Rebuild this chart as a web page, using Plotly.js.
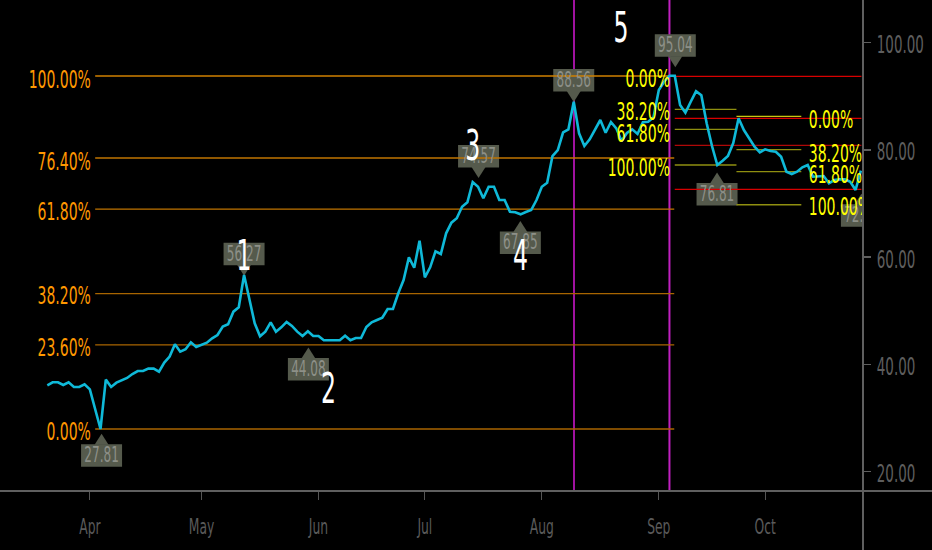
<!DOCTYPE html>
<html><head><meta charset="utf-8">
<script src="https://cdn.plot.ly/plotly-3.0.1.min.js"></script>
<style>html,body{margin:0;padding:0;background:#000}</style></head>
<body><div id="chart" style="width:932px;height:550px"></div>
<script>
const prices = [36.08,36.64,36.64,36.14,36.64,35.77,35.77,36.27,35.33,31.48,27.93,37.14,35.77,36.58,37.01,37.45,38.19,38.75,38.75,39.19,39.19,38.63,40.31,41.43,43.73,42.36,42.80,44.10,43.23,43.60,44.04,44.85,45.47,47.03,47.46,49.82,50.63,56.66,52.0,47.65,45.22,46.09,47.83,46.09,46.9,47.9,47.15,46.09,45.28,46.15,45.28,45.28,44.48,44.48,44.48,44.48,45.33,44.48,44.91,44.91,46.96,47.84,48.26,48.69,50.32,50.32,53.25,55.73,59.96,58.02,63.06,56.23,58.10,61.08,60.58,64.44,66.42,67.24,69.40,70.22,74.01,73.13,70.97,73.13,73.13,70.65,70.65,68.47,68.36,67.98,68.41,68.79,70.65,73.13,73.88,78.86,79.98,83.28,83.84,88.99,83.10,80.73,81.98,83.90,85.58,83.21,85.21,84.03,81.66,83.15,83.84,82.97,85.15,85.26,86.08,91.18,92.72,93.84,93.84,88.38,86.94,88.99,90.93,90.19,84.96,80.73,77.18,77.98,78.86,81.29,85.90,83.71,82.16,80.60,79.55,80.11,79.79,79.66,78.73,75.93,75.50,75.93,76.75,77.18,75.0,75.13,75.13,73.77,74.38,74.51,74.51,74.07,72.52,76.12];
const days = prices.map((_, i) => i);
const monthTicks = [8, 29, 51, 71, 93, 115, 135];
const monthLabels = ['Apr','May','Jun','Jul','Aug','Sep','Oct'];
const priceTicks = [20, 40, 60, 80, 100];
const priceTickLabels = ['20.00','40.00','60.00','80.00','100.00'];

const orangeLevels = [93.79, 78.49, 68.97, 53.19, 43.64, 27.93];
const orangeLabelLevels = [92.8, 77.5, 68.0, 52.5, 42.8, 27.1];
const orangeLabels = ['100.00%','76.40%','61.80%','38.20%','23.60%','0.00%'];
const redLevels = [93.73, 85.89, 80.86, 72.65];
const fibALevels = [87.57, 83.84, 77.18];
const fibALabelLevels = [92.9, 86.8, 82.7, 76.3];
const fibALabels = ['0.00%','38.20%','61.80%','100.00%'];
const fibBLevels = [86.26, 80.04, 75.93, 69.77];
const fibBLabelLevels = [85.3, 79.0, 75.05, 68.95];
const fibBLabels = ['0.00%','38.20%','61.80%','100.00%'];
const cycleLines = [99.05, 117];

const calloutTips = [10.2, 37, 49.1, 81.1, 88.96, 99, 118.1, 125.95, 153.1];
const calloutPrices = [27.05, 56.53, 43.13, 74.76, 66.73, 88.93, 95.41, 75.8, 71.83];
const calloutTexts = ['27.81','56.27','44.08','74.57','67.85','88.56','95.04','76.81','72.55'];
const calloutDown = [false, true, false, true, false, true, true, false, false];

const waveX = [37, 52.9, 80, 89, 107.9];
const waveY = [59.6, 34.8, 80, 59.5, 102.1];
const waveLabels = ['1','2','3','4','5'];

const FONT = '"DejaVu Sans",sans-serif';
const SQUEEZE = 0.56;
const shapes = [];
function hline(x0, x1, y, color, w) {
  shapes.push({type:'line', layer:'below', xref:'x', yref:'y', x0, x1, y0:y, y1:y, line:{color, width:w||1.3}});
}
calloutTips.forEach((x, i) => {
  const d = calloutDown[i];
  const yv = calloutPrices[i];
  const p = d ? 'M -20.5 10.5 L 20.5 10.5 L 20.5 33 L -20.5 33 Z' : 'M -20.5 -10.5 L 20.5 -10.5 L 20.5 -33 L -20.5 -33 Z';
  const t = d ? 'M -7 11 L 0 0 L 7 11 Z' : 'M -7 -11 L 0 0 L 7 -11 Z';
  [p, t].forEach(path => shapes.push({type:'path', layer:'below', xref:'x', yref:'y',
    xsizemode:'pixel', ysizemode:'pixel', xanchor:x, yanchor:yv, path, fillcolor:'#555a4c', line:{width:0}}));
});
orangeLevels.forEach((y, i) => hline(9, 117.9, y, i === 0 ? '#d08000' : (i === 1 || i === 2 ? '#c07500' : '#a86500')));
redLevels.forEach((y, i) => hline(118, 153.1, y, i === 2 ? '#b00808' : '#d80000'));
fibALevels.forEach((y) => hline(118, 129.6, y, '#8f8f10'));
fibBLevels.forEach((y, i) => hline(129.6, 141.8, y, i === 0 ? '#c8c810' : '#8f8f10'));
shapes.push({type:'line', layer:'below', xref:'x', yref:'paper', x0:cycleLines[0], x1:cycleLines[0], y0:0, y1:1, line:{color:'#a012a0', width:2}});
shapes.push({type:'line', layer:'below', xref:'x', yref:'paper', x0:cycleLines[1], x1:cycleLines[1], y0:0, y1:1, line:{color:'#c020c0', width:2}});
shapes.push({type:'line', layer:'above', xref:'paper', yref:'paper', x0:0, x1:932/863, y0:0, y1:0, line:{color:'#5f5f5f', width:2}});
shapes.push({type:'line', layer:'above', xref:'paper', yref:'paper', x0:1, x1:1, y0:-59/491, y1:1, line:{color:'#5f5f5f', width:2}});

function textTrace(x, y, text, pos, size, color) {
  return {type:'scatter', mode:'text', x, y, text, textposition:pos, cliponaxis:true, hoverinfo:'skip',
    showlegend:false, textfont:{family:FONT, size, color}};
}
const traces = [
  {type:'scatter', mode:'lines', x:days, y:prices, line:{color:'#0fb9d8', width:2.6}, hoverinfo:'skip', showlegend:false, cliponaxis:true},
  textTrace(calloutTips, calloutPrices.map((v, i) => v + (calloutDown[i] ? 3.8 : -4.3)), calloutTexts, 'middle center', 21.5, '#8d9088'),
  textTrace(orangeLevels.map(() => 8.2), orangeLabelLevels, orangeLabels, 'middle left', 25, '#ff9800'),
  textTrace(fibALabels.map(() => 117.1), fibALabelLevels, fibALabels, 'middle left', 25, '#ffff00'),
  textTrace(fibBLabels.map(() => 143.2), fibBLabelLevels, fibBLabels, 'middle right', 25, '#ffff00'),
  textTrace(waveX, waveY, waveLabels, 'middle center', 42, '#ffffff')
];
const layout = {
  width:932, height:550, paper_bgcolor:'#000', plot_bgcolor:'#000', showlegend:false,
  margin:{l:0, r:69, t:0, b:59, pad:0},
  font:{family:FONT, color:'#5e5e5e', size:20},
  xaxis:{range:[-8.9, 153.4], tickmode:'array', tickvals:monthTicks, ticktext:monthLabels, showgrid:false, zeroline:false,
    showline:false, ticks:'outside', ticklen:8, tickwidth:1, tickcolor:'#555', ticklabelstandoff:8,
    tickfont:{family:FONT, size:22, color:'#5a5a5a'}},
  yaxis:{range:[16.36, 107.97], side:'right', tickmode:'array', tickvals:priceTicks, ticktext:priceTickLabels, showgrid:false,
    zeroline:false, showline:false, ticks:'outside', ticklen:7, tickwidth:1.5, tickcolor:'#5f5f5f', ticklabelstandoff:1,
    tickfont:{family:FONT, size:24, color:'#5e5e5e'}},
  shapes
};
Plotly.newPlot('chart', traces, layout, {displayModeBar:false, staticPlot:true}).then(() => {
  document.querySelectorAll('#chart svg .textpoint text, #chart svg .xtick text, #chart svg .ytick text').forEach(el => {
    el.setAttribute('textLength', (el.getComputedTextLength() * SQUEEZE).toFixed(1));
    el.setAttribute('lengthAdjust', 'spacingAndGlyphs');
  });
  document.querySelectorAll('#chart svg .ytick text').forEach(el => el.setAttribute('dy', '2'));
});
</script></body></html>
